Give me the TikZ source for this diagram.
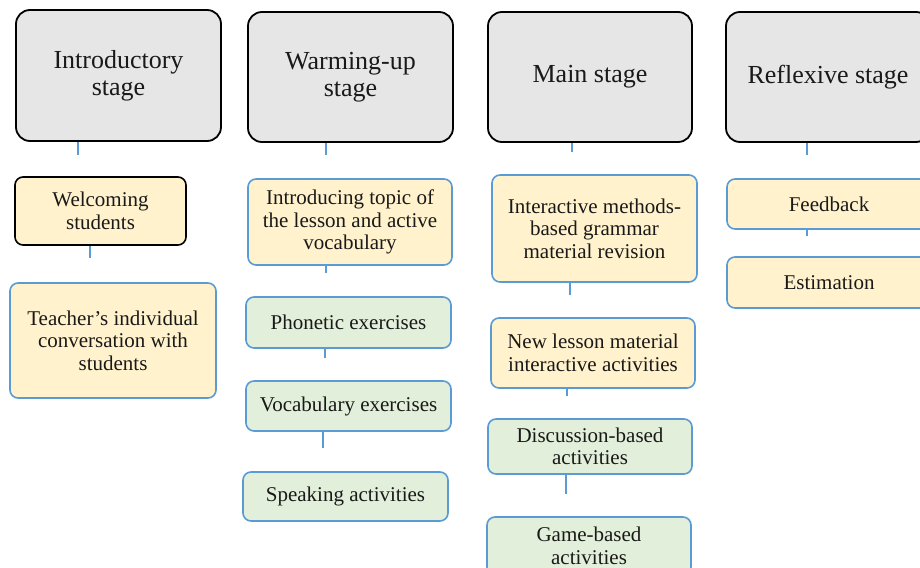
\documentclass[tikz,border=0pt]{standalone}
\usepackage{fontspec}
\setmainfont{Liberation Serif}
\definecolor{bblue}{HTML}{5B9BD5}
\definecolor{ylw}{HTML}{FFF2CC}
\definecolor{grn}{HTML}{E2EFDA}
\definecolor{stg}{HTML}{E6E6E6}
\tikzset{
  stagebox/.style={draw=black, line width=1.8pt, fill=stg, rounded corners=14pt,
    font=\fontsize{26}{27}\selectfont, align=center, inner sep=0pt, text=black!90},
  subbox/.style={draw=bblue, line width=1.6pt, rounded corners=8pt,
    font=\fontsize{21}{22.5}\selectfont, align=center, inner sep=0pt, text=black!90},
  ybox/.style={subbox, fill=ylw},
  gbox/.style={subbox, fill=grn},
  stub/.style={draw=bblue, line width=1.6pt},
}
\begin{document}
\begin{tikzpicture}[x=1pt,y=-1pt]
\clip (0,0) rectangle (920,567);
\fill[white] (0,0) rectangle (920,567);
% stage headers
\node[stagebox, minimum width=205pt, minimum height=131pt] (s1) at (118.5,75.5) {Introductory\\stage};
\node[stagebox, minimum width=205pt, minimum height=130pt] (s2) at (350.5,77) {Warming-up\\stage};
\node[stagebox, minimum width=204pt, minimum height=130pt] (s3) at (590,77) {Main stage};
\node[stagebox, minimum width=204pt, minimum height=130pt] (s4) at (828,77) {Reflexive stage};
% column 1
\node[ybox, draw=black, minimum width=171pt, minimum height=68pt] (a1) at (100.5,211) {Welcoming\\students};
\node[ybox, minimum width=206pt, minimum height=115pt] (a2) at (113,340.5) {Teacher’s individual\\conversation with\\students};
% column 2
\node[ybox, minimum width=204pt, minimum height=86pt] (b1) at (350,222) {Introducing topic of\\the lesson and active\\vocabulary};
\node[gbox, minimum width=205pt, minimum height=51pt] (b2) at (348.5,322.5) {Phonetic exercises};
\node[gbox, minimum width=205pt, minimum height=50pt] (b3) at (348.5,406) {Vocabulary exercises};
\node[gbox, minimum width=205pt, minimum height=49pt] (b4) at (345.5,496.5) {Speaking activities};
% column 3
\node[ybox, minimum width=205pt, minimum height=107pt] (c1) at (594.5,228.5) {Interactive methods-\\based grammar\\material revision};
\node[ybox, minimum width=204pt, minimum height=70pt] (c2) at (593,353) {New lesson material\\interactive activities};
\node[gbox, minimum width=204pt, minimum height=55pt] (c3) at (590,446.5) {Discussion-based\\activities};
\node[gbox, minimum width=204pt, minimum height=58pt] (c4) at (589,546) {Game-based\\activities};
% column 4
\node[ybox, minimum width=204pt, minimum height=50pt] (d1) at (829,204) {Feedback};
\node[ybox, minimum width=204pt, minimum height=51pt] (d2) at (829,282.5) {Estimation};
% stub ends
\coordinate (es1) at (78,155);
\coordinate (es2) at (326,155);
\coordinate (es3) at (572,152);
\coordinate (es4) at (807,155);
\coordinate (ea1) at (90,258);
\coordinate (eb1) at (326,273);
\coordinate (eb2) at (325,358);
\coordinate (eb3) at (323,448);
\coordinate (ec1) at (570,295);
\coordinate (ec2) at (567,396);
\coordinate (ec3) at (566,494);
\coordinate (ed1) at (807,236);
\foreach \n/\e in {s1/es1,s2/es2,s3/es3,s4/es4,a1/ea1,b1/eb1,b2/eb2,b3/eb3,c1/ec1,c2/ec2,c3/ec3,d1/ed1}
  \draw[stub] (\n.south -| \e) -- (\e);
\end{tikzpicture}
\end{document}
